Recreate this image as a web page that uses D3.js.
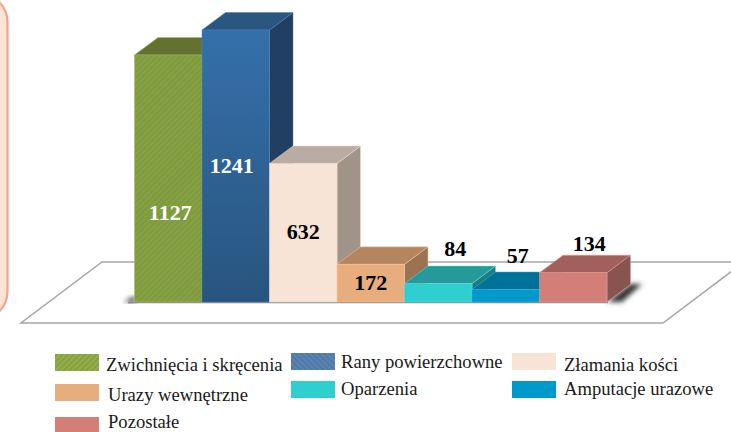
<!DOCTYPE html>
<html><head><meta charset="utf-8">
<script src="https://cdn.jsdelivr.net/npm/d3@7/dist/d3.min.js"></script>
<style>html,body{margin:0;padding:0;background:#fff;overflow:hidden}svg{display:block}text{font-family:"Liberation Serif",serif}</style>
</head><body><svg id="c" width="731" height="432"></svg>
<script>
const categories = ["Zwichnięcia i skręcenia","Rany powierzchowne","Złamania kości","Urazy wewnętrzne","Oparzenia","Amputacje urazowe","Pozostałe"];
const values = [1127,1241,632,172,84,57,134];
const frontColors = ["#7f9a3e","#2f6399","#f8e4d6","#e8ad7c","#30cfcf","#0099cc","#d47e78"];
const topColors = ["#63732f","#2a5680","#baaca2","#b58560","#269a9a","#00729a","#a2605c"];
const sideColors = ["#55652a","#213f63","#a09489","#9c7350","#1f7d7d","#005e80","#875450"];
const edgeColors = ["#a5b86a","#4f81b5","#f4dccb","#f3c8a3","#5fdcdc","#33b5e0","#e0a09c"];
const legendRows = [[0,1,2],[3,4,5],[6]];

const svg = d3.select("#c");
const defs = svg.append("defs");
const blur = defs.append("filter").attr("id","blur").attr("x","-30%").attr("y","-30%").attr("width","160%").attr("height","160%");
blur.append("feGaussianBlur").attr("stdDeviation",2.5);
const hatch = (id,bg,fg,angle)=>{
  const p = defs.append("pattern").attr("id",id).attr("patternUnits","userSpaceOnUse").attr("width",4).attr("height",4).attr("patternTransform",`rotate(${angle})`);
  p.append("rect").attr("width",4).attr("height",4).attr("fill",bg);
  p.append("rect").attr("width",2).attr("height",4).attr("fill",fg);
};
hatch("hGreen","#7f9a3e","#86a144",45);
hatch("hGreenL","#86a23c","#92ad50",45);
hatch("hBlueL","#4f79a8","#5b84b2",-45);
const g = defs.append("linearGradient").attr("id","gBlue").attr("x1",0).attr("x2",0).attr("y1",0).attr("y2",1);
g.append("stop").attr("offset",0).attr("stop-color","#3570aa");
g.append("stop").attr("offset",1).attr("stop-color","#28557f");
const frontFill = i => i===0 ? "url(#hGreen)" : i===1 ? "url(#gBlue)" : frontColors[i];
const legendFill = i => i===0 ? "url(#hGreenL)" : i===1 ? "url(#hBlueL)" : frontColors[i];

// decorative panel at left edge
svg.append("rect").attr("x",-60).attr("y",-6).attr("width",67.5).attr("height",325.5).attr("rx",28)
  .attr("fill","#fde5d6").attr("stroke","#fa9f8f").attr("stroke-width",2.2);

const x = d3.scaleBand().domain(categories).range([134.5,607]).padding(0);
const y = d3.scaleLinear().domain([0,1241]).range([302,30]);
const dx = 23.5, dy = 17.5;

// floor
const line = d3.line();
svg.append("path").attr("d",line([[731,262],[102,262],[21,323],[663,323],[744,262]]))
  .attr("fill","#fff").attr("stroke","#a6a6a6").attr("stroke-width",1.5);

// shadows
svg.append("path").attr("d",line([[124,302],[135,296],[135,302]])).attr("fill","#222").attr("filter","url(#blur)");
svg.append("path").attr("d",line([[607,302],[630,284],[642,284],[622,302]])).attr("fill","#333").attr("filter","url(#blur)");
svg.append("line").attr("x1",128).attr("x2",608).attr("y1",302.5).attr("y2",302.5).attr("stroke","#8c8c8c").attr("stroke-width",1.5);

// bars
svg.selectAll("g.bar").data(categories).join("g").attr("class","bar").each(function(c,i){
  const s = d3.select(this), x0 = x(c), x1 = x0 + x.bandwidth(), yt = y(values[i]), yb = y(0);
  s.append("path").attr("d",line([[x1,yt],[x1+dx,yt-dy],[x1+dx,yb-dy],[x1,yb]])+"Z").attr("fill",sideColors[i]).attr("stroke",edgeColors[i]).attr("stroke-width",0.5);
  s.append("path").attr("d",line([[x0,yt],[x0+dx,yt-dy],[x1+dx,yt-dy],[x1,yt]])+"Z").attr("fill",topColors[i]).attr("stroke",edgeColors[i]).attr("stroke-width",0.5);
  s.append("rect").attr("x",x0).attr("y",yt).attr("width",x.bandwidth()).attr("height",yb-yt).attr("fill",frontFill(i)).attr("stroke",edgeColors[i]).attr("stroke-width",0.5);
});

// value labels: nudges relative to the bar's centre / top
const nudgeX = [2,-4,0,0,17,12,16];
const nudgeY = [42,7,6,7,-27.5,-26.5,-21.5];
svg.selectAll("text.val").data(values).join("text").attr("class","val")
  .attr("text-anchor","middle").attr("font-weight","bold").attr("font-size",22)
  .attr("fill",(v,i)=> i<2 ? "#fff" : "#000")
  .attr("x",(v,i)=> x(categories[i]) + x.bandwidth()/2 + nudgeX[i])
  .attr("y",(v,i)=> (v<150 ? y(v) : (y(v)+y(0))/2) + nudgeY[i])
  .text(v=>v);

// legend
const legendX = [55,291,512], legendTextX = [106,341,564];
const legendY = [[354,353,353],[384,381,381],[417]];
const legendBase = [[371,368,371],[401,395,395],[428]];
legendRows.forEach((row,r)=>row.forEach((k,col)=>{
  svg.append("rect").attr("x",legendX[col]).attr("y",legendY[r][col]).attr("width",44).attr("height",17).attr("fill",legendFill(k));
  svg.append("text").attr("x",legendTextX[col] + (r>0&&col===0?2:0)).attr("y",legendBase[r][col]).attr("font-size",18.6).attr("fill","#1a1a1a").text(categories[k]);
}));
</script></body></html>
